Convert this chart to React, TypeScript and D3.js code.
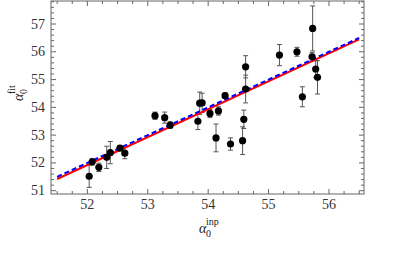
import React from "react";
import * as d3 from "d3";

const inpValues = [52.03, 52.08, 52.19, 52.32, 52.38, 52.54, 52.62, 53.12, 53.28, 53.37, 53.83, 53.86, 53.9, 54.03, 54.17, 54.13, 54.28, 54.37, 54.57, 54.59, 54.62, 54.62, 55.18, 55.47, 55.56, 55.72, 55.73, 55.78, 55.81];
const fitValues = [51.52, 52.04, 51.84, 52.2, 52.37, 52.53, 52.35, 53.7, 53.63, 53.36, 53.5, 54.15, 54.16, 53.78, 53.87, 52.9, 54.42, 52.68, 52.8, 53.57, 54.66, 55.46, 55.88, 56.0, 54.38, 55.82, 56.84, 55.38, 55.08];
const fitErrors = [0.4, 0.12, 0.15, 0.4, 0.4, 0.08, 0.2, 0.13, 0.2, 0.12, 0.3, 0.4, 0.35, 0.15, 0.15, 0.5, 0.1, 0.22, 0.5, 0.33, 0.5, 0.4, 0.38, 0.16, 0.36, 0.15, 0.81, 0.3, 0.6];

const identityLine = [[51.5, 51.5], [56.5, 56.5]];
const fitLine = [[51.5, 51.42], [56.5, 56.45]];

const xMajorTicks = [52, 53, 54, 55, 56];
const yMajorTicks = [51, 52, 53, 54, 55, 56, 57];

export default function App() {
  const W = 401, H = 257;
  const left = 51, right = 364, top = 1, bottom = 194;
  const x = d3.scaleLinear().domain([51.398, 56.58]).range([left, right]);
  const y = d3.scaleLinear().domain([50.881, 57.828]).range([bottom, top]);

  const xMinor = d3.range(51.5, 56.6, 0.25).filter(v => Math.abs(v - Math.round(v)) > 0.01);
  const yMinor = d3.range(51, 57.81, 0.2).filter(v => Math.abs(v - Math.round(v)) > 0.01);

  const line = d3.line<number[]>().x(d => x(d[0])).y(d => y(d[1]));
  const frame = "#666";
  const font = "'Liberation Serif', 'Times New Roman', serif";

  return (
    <svg width={W} height={H} style={{ position: "absolute", left: 0, top: 0, background: "#fff" }}>
      <rect x={left} y={top} width={right - left} height={bottom - top} fill="none" stroke={frame} strokeWidth={1} />
      {xMajorTicks.map(v => (
        <g key={"xm" + v}>
          <line x1={x(v)} x2={x(v)} y1={bottom} y2={bottom - 5} stroke={frame} />
          <line x1={x(v)} x2={x(v)} y1={top} y2={top + 5} stroke={frame} />
          <text x={x(v)} y={208.5} textAnchor="middle" fontFamily={font} fontSize={14} fill="#333">{v}</text>
        </g>
      ))}
      {xMinor.map(v => (
        <g key={"xn" + v}>
          <line x1={x(v)} x2={x(v)} y1={bottom} y2={bottom - 3} stroke={frame} />
          <line x1={x(v)} x2={x(v)} y1={top} y2={top + 3} stroke={frame} />
        </g>
      ))}
      {yMajorTicks.map(v => (
        <g key={"ym" + v}>
          <line x1={left} x2={left + 5} y1={y(v)} y2={y(v)} stroke={frame} />
          <line x1={right} x2={right - 5} y1={y(v)} y2={y(v)} stroke={frame} />
          <text x={45} y={y(v) + 4.5} textAnchor="end" fontFamily={font} fontSize={14} fill="#333">{v}</text>
        </g>
      ))}
      {yMinor.map(v => (
        <g key={"yn" + v}>
          <line x1={left} x2={left + 3} y1={y(v)} y2={y(v)} stroke={frame} />
          <line x1={right} x2={right - 3} y1={y(v)} y2={y(v)} stroke={frame} />
        </g>
      ))}
      {inpValues.map((v, i) => {
        const cx = x(v);
        const y1 = y(fitValues[i] - fitErrors[i]);
        const y2 = y(fitValues[i] + fitErrors[i]);
        return (
          <g key={"e" + i} stroke="#555" strokeWidth={1}>
            <line x1={cx} x2={cx} y1={y1} y2={y2} />
            <line x1={cx - 2.5} x2={cx + 2.5} y1={y1} y2={y1} />
            <line x1={cx - 2.5} x2={cx + 2.5} y1={y2} y2={y2} />
          </g>
        );
      })}
      <path d={line(fitLine) || ""} stroke="#ff0000" strokeWidth={2} fill="none" />
      <path d={line(identityLine) || ""} stroke="#0000ff" strokeWidth={2} strokeDasharray="5,3" fill="none" />
      {inpValues.map((v, i) => (
        <circle key={"p" + i} cx={x(v)} cy={y(fitValues[i])} r={3.6} fill="#000" />
      ))}
      <g fontFamily={font} fill="#222">
        <text x={199} y={233} fontSize={14} fontStyle="italic">α</text>
        <text x={206} y={237} fontSize={10}>0</text>
        <text x={206} y={225} fontSize={10}>inp</text>
      </g>
      <g fontFamily={font} fill="#222" transform="translate(23,101) rotate(-90)">
        <text x={0} y={0} fontSize={14} fontStyle="italic">α</text>
        <text x={7} y={4} fontSize={10}>0</text>
        <text x={7} y={-8} fontSize={10}>fit</text>
      </g>
    </svg>
  );
}
